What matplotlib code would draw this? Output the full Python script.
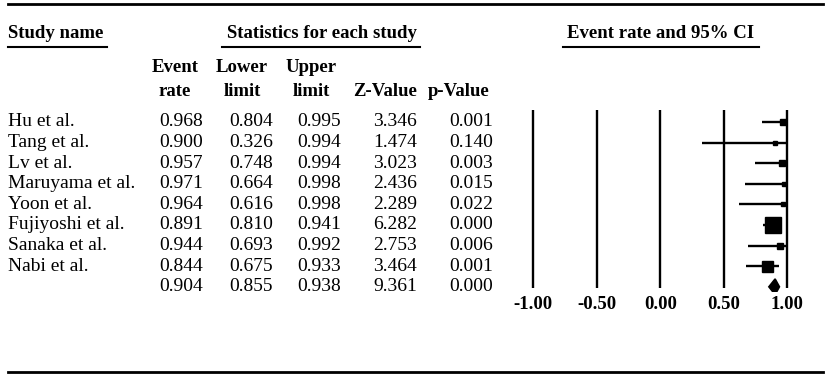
import matplotlib
matplotlib.use("Agg")
import matplotlib.pyplot as plt
from matplotlib.lines import Line2D
from matplotlib.patches import Polygon

plt.rcParams['font.family'] = ['Liberation Serif', 'DejaVu Serif']

# ---- data ----
studies = ["Hu et al.", "Tang et al.", "Lv et al.", "Maruyama et al.", "Yoon et al.",
           "Fujiyoshi et al.", "Sanaka et al.", "Nabi et al."]
event_rate = [0.968, 0.900, 0.957, 0.971, 0.964, 0.891, 0.944, 0.844]
lower = [0.804, 0.326, 0.748, 0.664, 0.616, 0.810, 0.693, 0.675]
upper = [0.995, 0.994, 0.994, 0.998, 0.998, 0.941, 0.992, 0.933]
z_value = [3.346, 1.474, 3.023, 2.436, 2.289, 6.282, 2.753, 3.464]
p_value = [0.001, 0.140, 0.003, 0.015, 0.022, 0.000, 0.006, 0.001]
weights = [6, 4, 6, 5, 5, 16, 6, 11]          # relative square sizes
summary = {"rate": 0.904, "lower": 0.855, "upper": 0.938, "z": 9.361, "p": 0.000}
ticks = [-1.0, -0.5, 0.0, 0.5, 1.0]
tick_labels = ["-1.00", "-0.50", "0.00", "0.50", "1.00"]

W, H = 829, 380
fig = plt.figure(figsize=(W / 100, H / 100), dpi=100)


def px(x, y):
    return x / W, 1 - y / H


def ftext(x, y, s, **kw):
    fx, fy = px(x, y)
    fig.text(fx, fy, s, **kw)


def hline(x0, x1, y, lw=1.5):
    a, b = px(x0, y)
    c, _ = px(x1, y)
    fig.add_artist(Line2D([a, c], [b, b], color="black", lw=lw, transform=fig.transFigure))


FS = 14
HFS = 13.5
row0, dy = 122.0, 20.6

# top / bottom rules
hline(8, 823, 3.5, lw=2.0)
hline(8, 823, 372, lw=2.0)

# headers
ftext(8, 34, "Study name", fontsize=HFS, fontweight="bold", va="center", ha="left")
hline(8, 107, 47)
ftext(322, 34, "Statistics for each study", fontsize=HFS, fontweight="bold", va="center", ha="center")
hline(222, 420, 47)
ftext(661, 34, "Event rate and 95% CI", fontsize=HFS, fontweight="bold", va="center", ha="center")
hline(563, 759, 47)

col_right = [203, 273, 341, 417, 493]
hdr = [("Event", "rate", 175), ("Lower", "limit", 242), ("Upper", "limit", 311),
       ("", "Z-Value", 385), ("", "p-Value", 459)]
for l1, l2, cx in hdr:
    if l1:
        ftext(cx, 68, l1, fontsize=HFS, fontweight="bold", va="center", ha="center")
    ftext(cx, 91, l2, fontsize=HFS, fontweight="bold", va="center", ha="center")

# table rows
rows = list(zip(studies, event_rate, lower, upper, z_value, p_value))
rows.append(("", summary["rate"], summary["lower"], summary["upper"], summary["z"], summary["p"]))
for i, (name, er, lo, up, z, p) in enumerate(rows):
    y = row0 + dy * i
    ftext(8, y, name, fontsize=FS, va="center", ha="left")
    for xr, v in zip(col_right, [er, lo, up, z, p]):
        ftext(xr, y, f"{v:.3f}", fontsize=FS, va="center", ha="right")

# forest plot axes
ppu = 127.0
x_m1 = 533.3
left_px, right_px, top_px, bot_px = 500, 829, 100, 292
ax = fig.add_axes([left_px / W, 1 - bot_px / H, (right_px - left_px) / W, (bot_px - top_px) / H])
ax.set_xlim(-1 + (left_px - x_m1) / ppu, -1 + (right_px - x_m1) / ppu)
ax.set_ylim((bot_px - row0) / dy, (top_px - row0) / dy)
for s in ax.spines.values():
    s.set_visible(False)
ax.set_yticks([])
ax.set_xticks(ticks, tick_labels)
ax.tick_params(axis="x", length=0, pad=3, labelsize=HFS)
for lab in ax.get_xticklabels():
    lab.set_fontweight("bold")

ytop = (110 - row0) / dy
ybot = (288 - row0) / dy
for t in ticks:
    ax.plot([t, t], [ytop, ybot], color="black", lw=1.7, solid_capstyle="butt")

for i in range(len(studies)):
    ax.plot([lower[i], upper[i]], [i, i], color="black", lw=1.7, solid_capstyle="butt")
    ax.plot(event_rate[i], i, marker="s", color="black", markersize=weights[i] * 0.72, zorder=3)

n = len(studies)
hh = 0.38
diamond = Polygon([[summary["lower"], n], [summary["rate"], n - hh],
                   [summary["upper"], n], [summary["rate"], n + hh]],
                  closed=True, color="black", lw=1.2, zorder=3)
ax.add_patch(diamond)

fig.savefig("out.png", dpi=100)
